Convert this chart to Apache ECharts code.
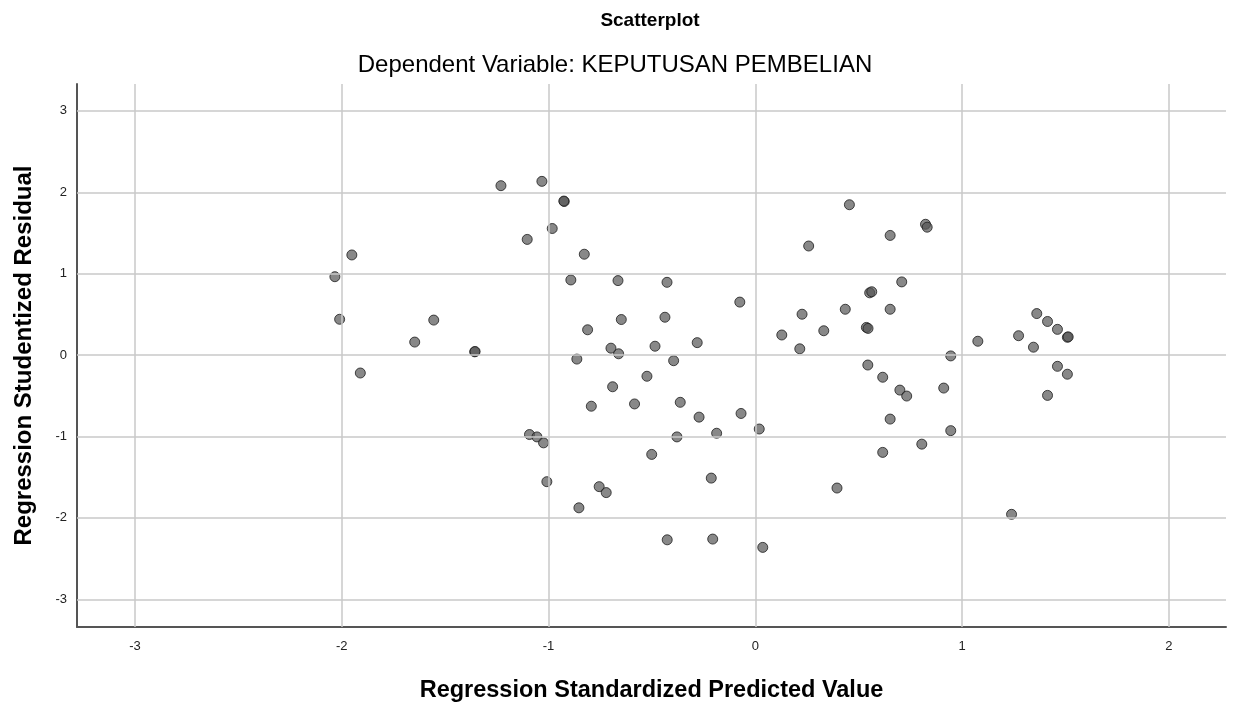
<!DOCTYPE html>
<html>
<head>
<meta charset="utf-8">
<title>Scatterplot</title>
<script src="https://cdn.jsdelivr.net/npm/echarts@6/dist/echarts.min.js"></script>
<style>
  html, body { margin: 0; padding: 0; background: #fff; }
  #chart { width: 1237px; height: 708px; }
</style>
</head>
<body>
<div id="chart"></div>
<script>
    'use strict';

    // Regression Standardized Predicted Value
    var predicted = [
        -2.033, -1.951, -2.010, -1.910, -1.555, -1.647, -1.357, -1.230, -1.032, -0.924,
        -0.982, -1.103, -0.827, -0.892, -0.664, -0.427, -0.075, 0.455, 0.258, 0.553,
        0.563, 0.226, 0.435, 0.331, 0.537, 0.545, 0.128, 0.215, -0.648, -0.437,
        -0.811, -0.485, -0.281, -0.698, -0.661, 0.652, 0.823, 0.831, 0.708, 0.652,
        0.945, 1.076, 1.273, 1.345, 1.361, 1.413, 1.461, 1.509, 1.513, -0.863,
        -0.395, -0.524, -0.690, -0.793, -0.584, -0.363, -0.272, -0.069, 0.019, -0.187,
        -0.379, -1.092, -1.056, -1.024, -0.501, -1.008, -0.755, -0.721, -0.853, -0.213,
        -0.426, -0.206, 0.036, 0.395, 0.544, 0.616, 0.616, 1.461, 1.509, 1.413,
        0.699, 0.732, 0.911, 0.652, 0.945, 0.805, 1.239, -0.926, -1.355
    ];
    // Regression Studentized Residual
    var residual = [
        0.963, 1.230, 0.440, -0.220, 0.430, 0.160, 0.040, 2.081, 2.134, 1.887,
        1.555, 1.421, 1.239, 0.923, 0.915, 0.894, 0.651, 1.847, 1.340, 0.765,
        0.778, 0.502, 0.563, 0.299, 0.340, 0.328, 0.247, 0.077, 0.437, 0.465,
        0.311, 0.109, 0.153, 0.085, 0.016, 1.470, 1.607, 1.571, 0.899, 0.563,
        -0.010, 0.170, 0.238, 0.097, 0.510, 0.413, 0.316, 0.219, 0.224, -0.049,
        -0.069, -0.260, -0.389, -0.628, -0.600, -0.580, -0.762, -0.717, -0.908, -0.960,
        -1.005, -0.976, -1.005, -1.078, -1.220, -1.555, -1.616, -1.689, -1.876, -1.511,
        -2.269, -2.260, -2.362, -1.633, -0.122, -0.272, -1.195, -0.138, -0.235, -0.495,
        -0.430, -0.503, -0.405, -0.786, -0.928, -1.094, -1.956, 1.892, 0.044
    ];
    var xTicks = [-3, -2, -1, 0, 1, 2];
    var yTicks = [-3, -2, -1, 0, 1, 2, 3];

    var points = [];
    for (var i = 0; i < predicted.length; i++) {
        points.push([predicted[i], residual[i]]);
    }

    // grid lines at the integer ticks
    var gridLines = [];
    for (var a = 0; a < xTicks.length; a++) {
        gridLines.push({ xAxis: xTicks[a] });
    }
    for (var b = 0; b < yTicks.length; b++) {
        gridLines.push({ yAxis: yTicks[b] });
    }

    var font = '"Liberation Sans", Arial, sans-serif';

    var option = {
        animation: false,
        backgroundColor: '#ffffff',
        title: [{
            text: 'Scatterplot',
            left: 645,
            top: 6,
            textAlign: 'center',
            textStyle: { fontFamily: font, fontSize: 19, fontWeight: 'bold', color: '#000' }
        }, {
            text: 'Dependent Variable: KEPUTUSAN PEMBELIAN',
            left: 610,
            top: 48,
            textAlign: 'center',
            textStyle: { fontFamily: font, fontSize: 24, fontWeight: 'normal', color: '#000' }
        }],
        grid: {
            left: 77,
            right: 11,
            top: 84,
            bottom: 75
        },
        xAxis: {
            type: 'value',
            min: -3.28,
            max: 2.276,
            name: 'Regression Standardized Predicted Value',
            nameLocation: 'middle',
            nameGap: 52,
            nameTextStyle: { fontFamily: font, fontSize: 23.5, fontWeight: 'bold', color: '#000' },
            axisLine: { show: true, onZero: false, lineStyle: { color: '#555', width: 2 } },
            axisTick: { show: false },
            axisLabel: {
                margin: 13,
                fontFamily: font,
                fontSize: 13,
                color: '#222',
                customValues: xTicks
            },
            splitLine: { show: false },
            axisPointer: { show: false }
        },
        yAxis: {
            type: 'value',
            min: -3.34,
            max: 3.33,
            name: 'Regression Studentized Residual',
            nameLocation: 'middle',
            nameGap: 41,
            nameTextStyle: { fontFamily: font, fontSize: 24, fontWeight: 'bold', color: '#000' },
            axisLine: { show: true, onZero: false, lineStyle: { color: '#555', width: 2 } },
            axisTick: { show: false },
            axisLabel: {
                margin: 10,
                fontFamily: font,
                fontSize: 13,
                color: '#222',
                customValues: yTicks
            },
            splitLine: { show: false }
        },
        series: [{
            type: 'scatter',
            data: [],
            silent: true,
            markLine: {
                silent: true,
                symbol: 'none',
                label: { show: false },
                lineStyle: { color: '#c8c8c8', width: 1.5, type: 'solid' },
                data: gridLines
            }
        }, {
            type: 'scatter',
            data: points,
            symbol: 'circle',
            symbolSize: 10,
            itemStyle: {
                color: 'rgba(85,85,85,0.88)',
                borderColor: '#1e1e1e',
                borderWidth: 1
            }
        }]
    };

    var chart = echarts.init(document.getElementById('chart'), null, { renderer: 'canvas' });
    chart.setOption(option, true);
</script>
</body>
</html>
